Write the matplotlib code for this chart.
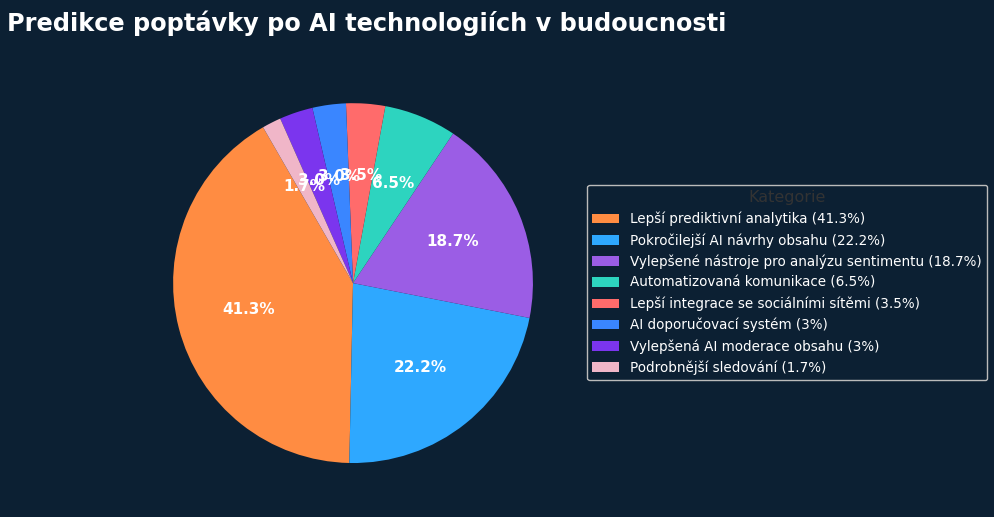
import matplotlib.pyplot as plt

categories = ['Lepší prediktivní analytika', 'Pokročilejší AI návrhy obsahu',
              'Vylepšené nástroje pro analýzu sentimentu', 'Automatizovaná komunikace',
              'Lepší integrace se sociálními sítěmi', 'AI doporučovací systém',
              'Vylepšená AI moderace obsahu', 'Podrobnější sledování']
values = [41.3, 22.2, 18.7, 6.5, 3.5, 3, 3, 1.7]
colors = ['#FF8C42', '#2EA8FF', '#9B5DE5', '#2DD4BF', '#FF6B6B', '#3A86FF', '#7B35EE', '#F0B6C8']

bg = '#0C2033'
fig = plt.figure(figsize=(9.94, 5.17), dpi=100, facecolor=bg)
ax = fig.add_axes([0.1288, 0.0174, 0.4527, 0.870])
ax.set_facecolor(bg)

wedges, texts, autotexts = ax.pie(values, colors=colors, startangle=120,
                                  autopct='%1.1f%%', pctdistance=0.6,
                                  textprops={'color': 'white', 'fontsize': 11, 'fontweight': 'bold'})
ax.set_aspect('equal')

labels = [f'{c} ({v:g}%)' for c, v in zip(categories, values)]
leg = fig.legend(wedges, labels, title='Kategorie', loc='center left',
                 bbox_to_anchor=(0.5905, 0.4536), borderaxespad=0,
                 fontsize=9.75, title_fontsize=11.5, handlelength=2.0,
                 facecolor=bg, edgecolor='#BBBBBB', labelcolor='white', framealpha=1)
leg.get_title().set_color('#333333')

fig.suptitle('Predikce poptávky po AI technologiích v budoucnosti', x=0.007, y=0.98,
             ha='left', va='top', fontsize=17.3, fontweight='bold', color='white')

fig.savefig('out.png', facecolor=bg)
